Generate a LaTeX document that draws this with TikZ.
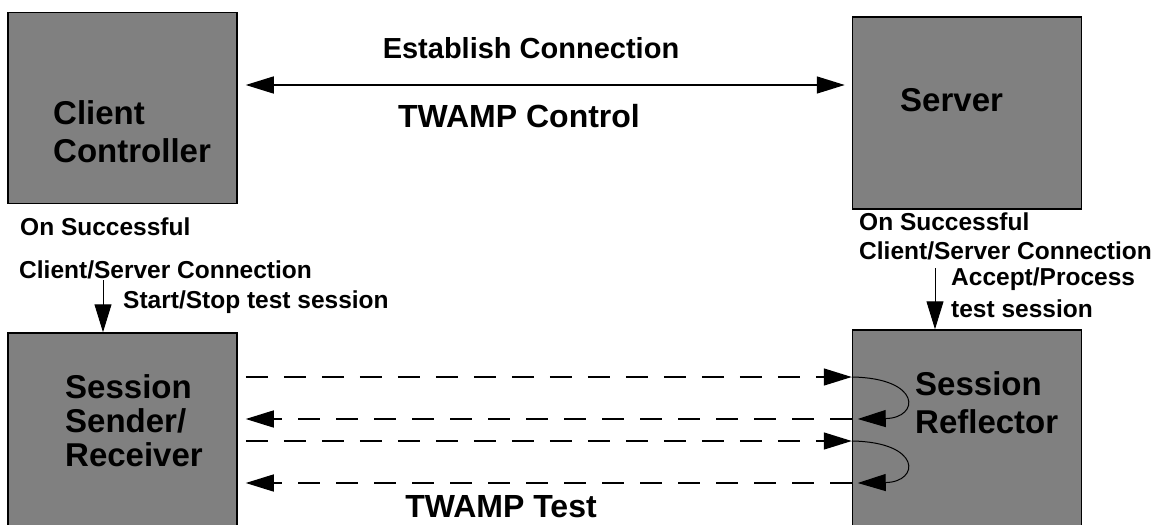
\documentclass[tikz,border=0pt]{standalone}
\usepackage{fontspec}
\setmainfont{Liberation Sans}
\usetikzlibrary{arrows.meta}

\definecolor{boxgray}{gray}{0.5}

\begin{document}
\begin{tikzpicture}[x=1pt, y=-1pt,
    box/.style={draw, line width=1.5pt, fill=boxgray, inner sep=0pt},
    boxtext/.style={font=\fontsize{33}{38}\selectfont\bfseries, align=left, anchor=west, inner sep=0pt},
    title/.style={font=\fontsize{29}{34}\selectfont\bfseries, inner sep=0pt},
    twamp/.style={font=\fontsize{32}{36}\selectfont\bfseries, inner sep=0pt},
    note/.style={font=\fontsize{24.5}{28}\selectfont\bfseries, anchor=west, inner sep=0pt},
    tip/.style={-{Triangle[length=28pt,width=17pt]}},
    testline/.style={tip, line width=1.5pt, dash pattern=on 22pt off 16pt},
    loopline/.style={-{Triangle[length=28pt,width=17pt]}, line width=1pt}]
    \useasboundingbox (0,0) rectangle (1176,525);
    % boxes
    \node[box, minimum width=229pt, minimum height=191pt] (client) at (122.5,108) {};
    \node[box, minimum width=229pt, minimum height=192pt] (server) at (967,113) {};
    \node[box, minimum width=229pt, minimum height=197pt] (sender) at (122.5,431.5) {};
    \node[box, minimum width=229pt, minimum height=200pt] (reflector) at (967,430) {};
    \node[boxtext] (clientlbl) at (53,132) {Client\\Controller};
    \node[boxtext] (serverlbl) at (900,100) {Server};
    \node[boxtext, font=\fontsize{33}{34}\selectfont\bfseries] (senderlbl) at (65,421) {Session\\Sender/\\Receiver};
    \node[boxtext] (reflectorlbl) at (915,403) {Session\\Reflector};
    % control connection
    \node[title] (establish) at (531,48) {Establish Connection};
    \node[twamp] (control) at (519,116) {TWAMP Control};
    \draw[{Triangle[length=28pt,width=17pt]}-{Triangle[length=28pt,width=17pt]}, line width=1.5pt]
        ([xshift=8pt]client.east |- 0,85) -- ([xshift=-7pt]server.west |- 0,85);
    % start of test sessions
    \node[note] (okleft) at (20,227) {On Successful};
    \node[note] (connleft) at (19,270) {Client/Server Connection};
    \node[note] (startstop) at (123,302) {Start/Stop test session};
    \coordinate (leftstart) at (103,280);
    \draw[tip, line width=1pt] (leftstart) -- (leftstart |- sender.north);
    \node[note] (okright) at (859,222) {On Successful};
    \node[note] (connright) at (859,251) {Client/Server Connection};
    \node[note] (accept) at (951,279) {Accept/Process};
    \node[note] (testsess) at (951,309) {test session};
    \coordinate (rightstart) at (935,268);
    \draw[tip, line width=1pt] (rightstart) -- (rightstart |- reflector.north);
    % test packets
    \coordinate (t1) at (0,377);
    \coordinate (r1) at (0,419);
    \coordinate (t2) at (0,441);
    \coordinate (r2) at (0,483);
    \draw[testline] ([xshift=8pt]sender.east |- t1) -- (reflector.west |- t1);
    \draw[testline] (reflector.west |- r1) -- ([xshift=8pt]sender.east |- r1);
    \draw[testline] ([xshift=8pt]sender.east |- t2) -- (reflector.west |- t2);
    \draw[testline] (reflector.west |- r2) -- ([xshift=8pt]sender.east |- r2);
    \draw[loopline] (reflector.west |- t1) .. controls (922,378) and (920,418) .. ([xshift=6pt]reflector.west |- r1);
    \draw[loopline] (reflector.west |- t2) .. controls (922,442) and (920,482) .. ([xshift=6pt]reflector.west |- r2);
    \node[twamp] (testlbl) at (501,507) {TWAMP Test};
\end{tikzpicture}
\end{document}
